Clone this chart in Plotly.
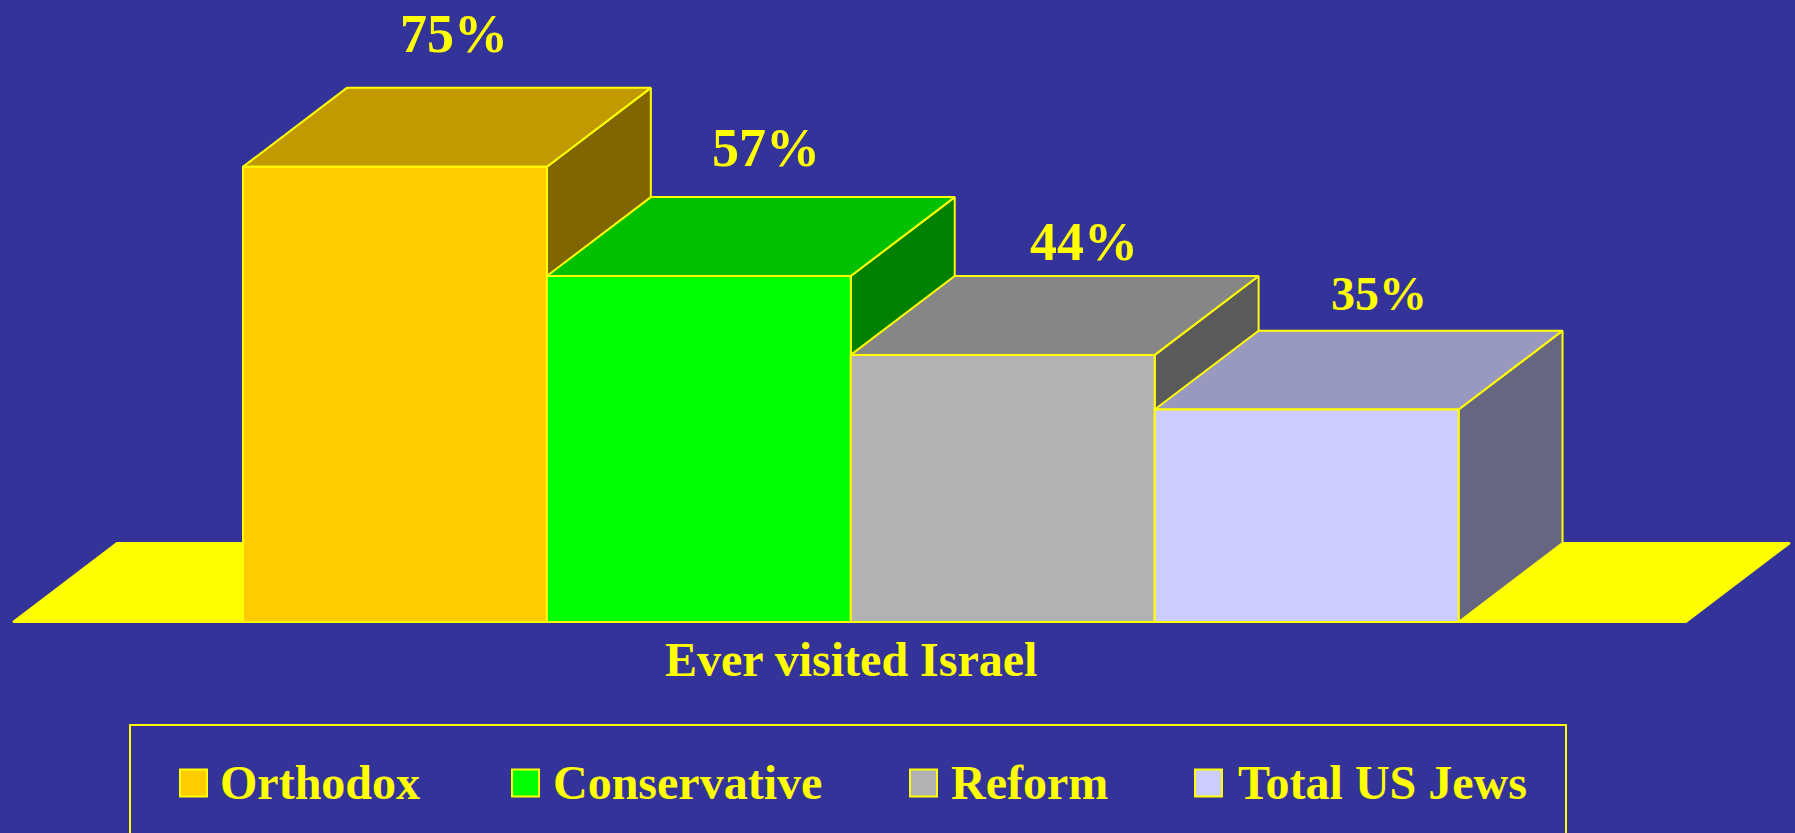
import plotly.graph_objects as go

# chart data
categories = ['Orthodox', 'Conservative', 'Reform', 'Total US Jews']
values = [75, 57, 44, 35]
axis_label = 'Ever visited Israel'

# colours per bar
front_colors = ['#FFCC00', '#00FF00', '#B2B2B2', '#CCCCFF']
top_colors = ['#C09A00', '#00C000', '#868686', '#9999BF']
side_colors = ['#806600', '#008000', '#5A5A5A', '#666680']

BG = '#333399'
YELLOW = '#FFFF00'
FONT = 'Liberation Serif'

# page geometry
W, H = 1795, 833
BAR_PX = 303.9   # one bar width in pixels
PCT_PX = 6.07    # one percent in pixels
X0_PX = 243      # left edge of first bar
Y0_PX = 622      # baseline
DX = 0.342       # depth of the 3d box, x units
DY = 13.0        # depth of the 3d box, percent units
FLOOR_LEFT = -0.757
FLOOR_RIGHT = 4.748

# pixel nudges for the value labels, they are not centred the same way on each bar
label_shift_x = [7, 15, 29, 20]
label_shift_y = [32, 27, 12, 19]
label_size = [54, 54, 54, 48]

# legend layout, in pixels
swatch_x = [180, 512, 910, 1195]
text_x = [218, 551, 949, 1236]
LEG_BOX = (130, 725, 1566, 840)
SWATCH = 27
LEG_Y = 782


def px(x):
    return x / W


def py(y):
    return 1 - y / H


def face(xs, ys, color):
    return go.Scatter(x=xs, y=ys, mode='lines', fill='toself', fillcolor=color,
                      line=dict(color=YELLOW, width=2), hoverinfo='skip', showlegend=False)


fig = go.Figure()

# floor
fig.add_trace(face([FLOOR_LEFT, FLOOR_LEFT + DX, FLOOR_RIGHT + DX, FLOOR_RIGHT, FLOOR_LEFT],
                   [0, DY, DY, 0, 0], YELLOW))

# boxes, painted left to right so each one overlaps the side of the previous
for i, v in enumerate(values):
    l, r = i, i + 1
    fig.add_trace(face([r, r + DX, r + DX, r, r], [0, DY, v + DY, v, 0], side_colors[i]))
    fig.add_trace(face([l, l + DX, r + DX, r, l], [v, v + DY, v + DY, v, v], top_colors[i]))
    fig.add_trace(face([l, r, r, l, l], [0, 0, v, v, 0], front_colors[i]))

annotations = []
for i, v in enumerate(values):
    annotations.append(dict(x=i + 0.5 + DX / 2, y=v + DY, xref='x', yref='y', text=f'<b>{v}%</b>',
                            showarrow=False, xanchor='center', yanchor='bottom',
                            xshift=label_shift_x[i], yshift=label_shift_y[i] - 10,
                            font=dict(family=FONT, size=label_size[i], color=YELLOW)))

annotations.append(dict(x=len(values) / 2, y=0, xref='x', yref='y', text=f'<b>{axis_label}</b>',
                        showarrow=False, xanchor='center', yanchor='top', yshift=-9,
                        font=dict(family=FONT, size=48, color=YELLOW)))

shapes = [dict(type='rect', xref='paper', yref='paper',
               x0=px(LEG_BOX[0]), x1=px(LEG_BOX[2]), y0=py(LEG_BOX[3]), y1=py(LEG_BOX[1]),
               line=dict(color=YELLOW, width=2), fillcolor=BG)]

for i, name in enumerate(categories):
    shapes.append(dict(type='rect', xref='paper', yref='paper',
                       x0=px(swatch_x[i]), x1=px(swatch_x[i] + SWATCH),
                       y0=py(783 + SWATCH / 2), y1=py(783 - SWATCH / 2),
                       line=dict(color=YELLOW, width=2), fillcolor=front_colors[i]))
    annotations.append(dict(x=px(text_x[i]), y=py(LEG_Y), xref='paper', yref='paper', text=f'<b>{name}</b>',
                            showarrow=False, xanchor='left', yanchor='middle',
                            font=dict(family=FONT, size=48, color=YELLOW)))

fig.update_layout(
    width=W, height=H,
    margin=dict(l=0, r=0, t=0, b=0),
    paper_bgcolor=BG, plot_bgcolor=BG,
    showlegend=False,
    xaxis=dict(range=[-X0_PX / BAR_PX, (W - X0_PX) / BAR_PX], visible=False, fixedrange=True),
    yaxis=dict(range=[-(H - Y0_PX) / PCT_PX, Y0_PX / PCT_PX], visible=False, fixedrange=True),
    shapes=shapes,
    annotations=annotations,
)

# drop the default page margin so the figure fills the window
fig.write_html("out.html", config=dict(displayModeBar=False),
               post_script="document.body.style.margin='0';document.body.style.overflow='hidden';")
